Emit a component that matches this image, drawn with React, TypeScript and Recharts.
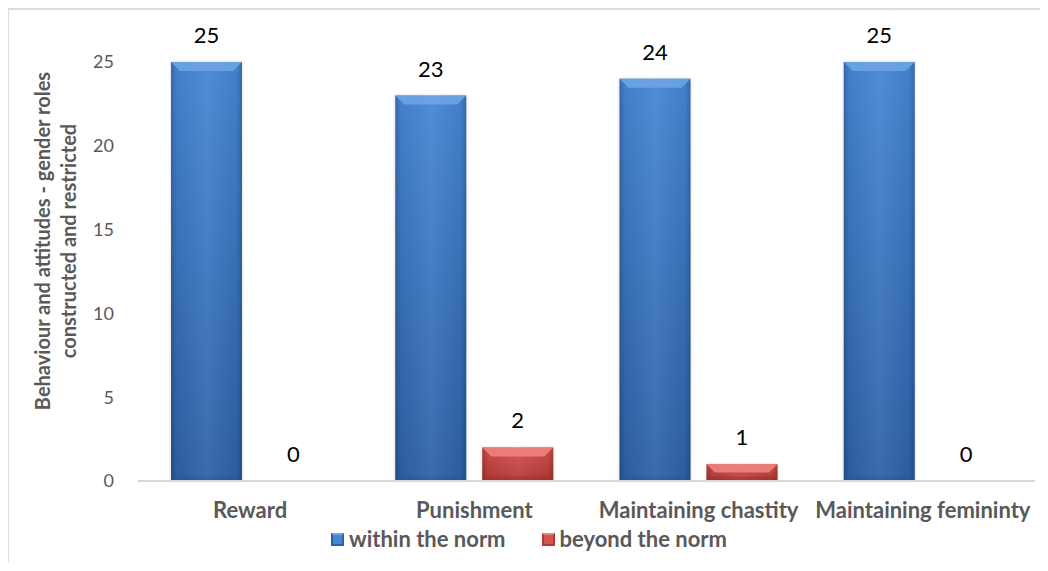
import React from 'react';
import { BarChart, Bar, XAxis, YAxis, Legend, LabelList } from 'recharts';

const categories = ['Reward', 'Punishment', 'Maintaining chastity', 'Maintaining femininty'];
const withinNorm = [25, 23, 24, 25];
const beyondNorm = [0, 2, 1, 0];
const yTicks = [0, 5, 10, 15, 20, 25];
const seriesNames = ['within the norm', 'beyond the norm'];

const data = categories.map((name, i) => ({
  name,
  within: withinNorm[i],
  beyond: beyondNorm[i],
}));

const FONT = 'Lato, "Open Sans", sans-serif';
const GREY_TEXT = '#595959';

const tones: Record<string, { top: string; bottom: string; bevel: string; edge: string }> = {
  blue: { top: '#4686D4', bottom: '#2E62A6', bevel: '#6FA6E8', edge: '#24528F' },
  red: { top: '#D65350', bottom: '#B33835', bevel: '#F08481', edge: '#962B29' },
};

// bar with an Excel-like bevel: lighter cap on top, darker sides
function BevelBar(props: any) {
  const { x, y, width, height, tone } = props;
  if (!height || height <= 0) return null;
  const t = tones[tone];
  const b = Math.min(9, height / 2);
  return (
    <g filter="url(#barShadow)">
      <rect x={x} y={y} width={width} height={height} fill={`url(#${tone}Body)`} />
      <rect x={x} y={y} width={width} height={height} fill="url(#sideShade)" />
      <polygon
        points={`${x},${y} ${x + width},${y} ${x + width - b},${y + b} ${x + b},${y + b}`}
        fill={t.bevel}
        opacity={0.85}
      />
      <polygon
        points={`${x},${y + height} ${x + width},${y + height} ${x + width - b / 2},${y + height - b / 2} ${x + b / 2},${y + height - b / 2}`}
        fill={t.edge}
        opacity={0.35}
      />
    </g>
  );
}

function LegendIcon({ tone }: { tone: string }) {
  const t = tones[tone];
  return (
    <svg width={13} height={13} style={{ display: 'block' }}>
      <rect x={0} y={0} width={13} height={13} fill={t.bottom} />
      <rect x={2} y={2} width={9} height={9} fill={t.top} />
      <polygon points="0,0 13,0 11,2 2,2" fill={t.bevel} />
    </svg>
  );
}

function LegendContent() {
  const items = [
    { label: seriesNames[0], tone: 'blue' },
    { label: seriesNames[1], tone: 'red' },
  ];
  return (
    <div style={{ display: 'flex', alignItems: 'center', gap: 36, fontFamily: FONT }}>
      {items.map((it) => (
        <div key={it.label} style={{ display: 'flex', alignItems: 'center', gap: 5 }}>
          <LegendIcon tone={it.tone} />
          <span style={{ fontSize: 22, fontWeight: 700, color: GREY_TEXT, lineHeight: '24px' }}>
            {it.label}
          </span>
        </div>
      ))}
    </div>
  );
}

function YTitle() {
  return (
    <text
      transform="translate(47, 233) rotate(-90)"
      textAnchor="middle"
      fontFamily={FONT}
      fontSize={20}
      fontWeight={700}
      fill={GREY_TEXT}
    >
      <tspan x={0} y={-13} dominantBaseline="central">
        Behaviour and attitudes - gender roles
      </tspan>
      <tspan x={0} y={13} dominantBaseline="central">
        constructed and restricted
      </tspan>
    </text>
  );
}

export default function App() {
  return (
    <div style={{ position: 'relative', width: 1032, height: 555, background: '#fff' }}>
      <div
        style={{
          position: 'absolute',
          left: -1,
          top: 0,
          width: 1041,
          height: 563,
          borderTop: '2px solid #DEDEDE',
          borderLeft: '2px solid #DEDEDE',
          boxSizing: 'border-box',
        }}
      />
      <div style={{ position: 'absolute', left: 0, top: 0 }}>
        <BarChart
          width={1040}
          height={563}
          data={data}
          margin={{ top: 54, right: 13, left: 50, bottom: 60 }}
          barCategoryGap={33}
          barGap={16}
          style={{ fontFamily: FONT }}
        >
          <defs>
            <linearGradient id="blueBody" x1="0" y1="0" x2="0" y2="1">
              <stop offset="0%" stopColor={tones.blue.top} />
              <stop offset="100%" stopColor={tones.blue.bottom} />
            </linearGradient>
            <linearGradient id="redBody" x1="0" y1="0" x2="0" y2="1">
              <stop offset="0%" stopColor={tones.red.top} />
              <stop offset="100%" stopColor={tones.red.bottom} />
            </linearGradient>
            <linearGradient id="sideShade" x1="0" y1="0" x2="1" y2="0">
              <stop offset="0%" stopColor="#000" stopOpacity={0.22} />
              <stop offset="8%" stopColor="#000" stopOpacity={0.05} />
              <stop offset="50%" stopColor="#fff" stopOpacity={0.06} />
              <stop offset="92%" stopColor="#000" stopOpacity={0.05} />
              <stop offset="100%" stopColor="#000" stopOpacity={0.22} />
            </linearGradient>
            <filter id="barShadow" x="-10%" y="-10%" width="120%" height="120%">
              <feDropShadow dx="0" dy="0" stdDeviation="1.5" floodColor="#000" floodOpacity="0.18" />
            </filter>
          </defs>
          <XAxis
            dataKey="name"
            height={30}
            tickLine={false}
            tickSize={0}
            tickMargin={21}
            axisLine={{ stroke: '#D9D9D9', strokeWidth: 2 }}
            tick={{ fontSize: 22, fontWeight: 700, fill: GREY_TEXT, fontFamily: FONT }}
            interval={0}
          />
          <YAxis
            width={80}
            domain={[0, 25]}
            ticks={yTicks}
            axisLine={false}
            tickLine={false}
            tickSize={0}
            tickMargin={24}
            tick={{ fontSize: 18, fill: GREY_TEXT, fontFamily: FONT }}
            label={{ content: () => <YTitle /> }}
          />
          <Legend
            layout="horizontal"
            verticalAlign="middle"
            align="center"
            wrapperStyle={{ left: 323, top: 519, width: 460 }}
            content={() => <LegendContent />}
          />
          <Bar
            dataKey="within"
            name={seriesNames[0]}
            fill={tones.blue.top}
            isAnimationActive={false}
            shape={(p: any) => <BevelBar {...p} tone="blue" />}
          >
            <LabelList dataKey="within" position="top" offset={19} fill="#000" fontSize={22} fontFamily={FONT} />
          </Bar>
          <Bar
            dataKey="beyond"
            name={seriesNames[1]}
            fill={tones.red.top}
            isAnimationActive={false}
            shape={(p: any) => <BevelBar {...p} tone="red" />}
          >
            <LabelList dataKey="beyond" position="top" offset={19} fill="#000" fontSize={22} fontFamily={FONT} />
          </Bar>
        </BarChart>
      </div>
    </div>
  );
}
